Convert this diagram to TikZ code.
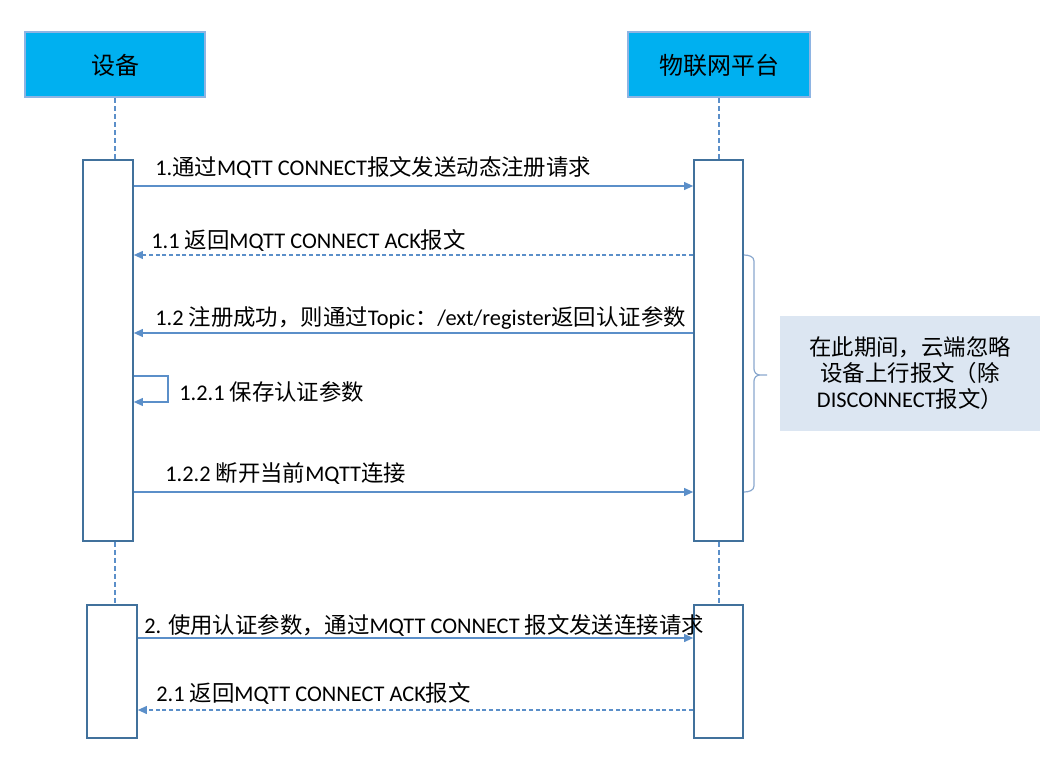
\documentclass[tikz,border=0pt]{standalone}
\usepackage{fontspec}
\setmainfont{Carlito}
\newfontfamily\cjk{Noto Sans CJK SC}
\usetikzlibrary{arrows.meta}
\newcommand\zh[1]{{\cjk #1}}
\definecolor{headfill}{HTML}{00B0F0}
\definecolor{headline}{HTML}{8EB4E3}
\definecolor{actline}{HTML}{41719C}
\definecolor{msgline}{HTML}{5B8FC9}
\definecolor{notefill}{HTML}{DCE6F2}
\definecolor{braceline}{HTML}{8AA8CE}
\begin{document}
\begin{tikzpicture}[x=0.75pt,y=-0.75pt,
 head/.style={draw=headline, line width=1.5pt, fill=headfill, minimum height=48.75pt, font=\fontsize{18}{22}\selectfont, inner sep=0},
 act/.style={draw=actline, line width=1.3pt, fill=white, inner sep=0},
 life/.style={draw=msgline, line width=0.9pt, dash pattern=on 3.5pt off 2.5pt},
 msg/.style={draw=msgline, line width=0.8pt, -{Triangle[length=6.75pt,width=6pt]}},
 ret/.style={msg, dash pattern=on 3pt off 2pt},
 lbl/.style={anchor=west, inner sep=0, font=\fontsize{16.8}{20}\selectfont},
 note/.style={fill=notefill, inner sep=0, minimum width=195pt, minimum height=86.25pt, align=center, font=\fontsize{16.8}{19.5}\selectfont},
 bracestyle/.style={draw=braceline, line width=0.9pt}
 ]
\useasboundingbox (0,0) rectangle (1060,763);

% headers
\node[head, minimum width=135pt] (h1) at (115,65) {\zh{设备}};
\node[head, minimum width=136.5pt] (h2) at (719,65) {\zh{物联网平台}};

% activation boxes
\node[act, minimum width=37.5pt, minimum height=285.75pt] (a1) at (108,350.5) {};
\node[act, minimum width=36.75pt, minimum height=285.75pt] (p1) at (718.5,350.5) {};
\node[act, minimum width=37.5pt, minimum height=99.75pt] (a2) at (112,671.5) {};
\node[act, minimum width=36.75pt, minimum height=99.75pt] (p2) at (718.5,671.5) {};

% lifelines
\draw[life] (h1.south) -- (h1.south |- a1.north);
\draw[life] (h1.south |- a1.south) -- (h1.south |- a2.north);
\draw[life] (h2.south) -- (h2.south |- p1.north);
\draw[life] (h2.south |- p1.south) -- (h2.south |- p2.north);

% messages
\draw[msg] (a1.east |- 0,186) -- (p1.west |- 0,186);
\node[lbl] (l1) at (155,167) {1.\zh{通过}MQTT CONNECT\zh{报文发送动态注册请求}};

\draw[ret] (p1.west |- 0,255) -- (a1.east |- 0,255);
\node[lbl] (l11) at (151,240) {1.1 \zh{返回}MQTT CONNECT ACK\zh{报文}};

\draw[msg] (p1.west |- 0,333) -- (a1.east |- 0,333);
\node[lbl] (l12) at (155,318) {1.2 \zh{注册成功，则通过}Topic\zh{：}/ext/register\zh{返回认证参数}};

\coordinate (s1) at (168,376);
\coordinate (s2) at (168,402);
\draw[msg] (a1.east |- s1) -- (s1) -- (s2) -- (a1.east |- s2);
\node[lbl] (l121) at (179,392) {1.2.1 \zh{保存认证参数}};

\draw[msg] (a1.east |- 0,492) -- (p1.west |- 0,492);
\node[lbl] (l122) at (165,474) {1.2.2 \zh{断开当前}MQTT\zh{连接}};

\draw[msg] (a2.east |- 0,638) -- (p2.west |- 0,638);
\node[lbl] (l2) at (144,625) {2. \zh{使用认证参数，通过}MQTT CONNECT \zh{报文发送连接请求}};

\draw[ret] (p2.west |- 0,710) -- (a2.east |- 0,710);
\node[lbl] (l21) at (156,693) {2.1 \zh{返回}MQTT CONNECT ACK\zh{报文}};

% brace and note
\draw[bracestyle] (744,255) to[out=0,in=90] (754,261) -- (754,369) to[out=-90,in=180] (760,375) -- (767,375)
  (760,375) to[out=180,in=90] (754,381) -- (754,486) to[out=-90,in=0] (744,492);
\node[note] (n) at (910,373.5) {\zh{在此期间，云端忽略}\\\zh{设备上行报文（除}\\DISCONNECT\zh{报文）}};
\end{tikzpicture}
\end{document}
